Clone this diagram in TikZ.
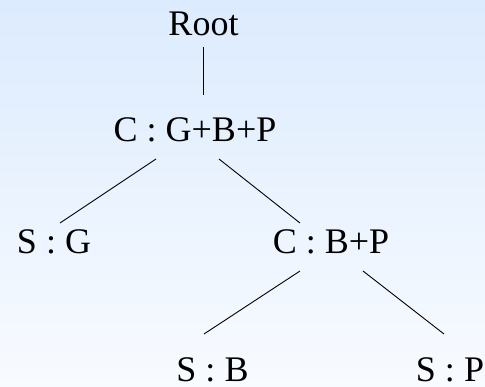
\documentclass[tikz,border=0pt]{standalone}
\usepackage{fontspec}
\setmainfont{Liberation Serif}
\definecolor{bgtop}{HTML}{DCEBFE}
\definecolor{bgbot}{HTML}{F8FBFF}
\begin{document}
\begin{tikzpicture}[x=1pt,y=-1pt,
  label/.style={anchor=base,inner sep=0pt,font=\fontsize{36}{40}\selectfont},
  edge/.style={line width=0.9pt}]
  % page background with a soft vertical gradient
  \shade[top color=bgtop,bottom color=bgbot] (0,0) rectangle (485,386);
  \useasboundingbox (0,0) rectangle (485,386);

  % tree labels
  \node[label] (root) at (203.5,35)  {Root};
  \node[label] (cgbp) at (195,141.5) {C : G+B+P};
  \node[label] (sg)   at (54,253)    {S : G};
  \node[label] (cbp)  at (331,253)   {C : B+P};
  \node[label] (sb)   at (212.5,381) {S : B};
  \node[label] (sp)   at (450,381)   {S : P};

  % end points of the branches
  \coordinate (root-b) at (203.7,47);
  \coordinate (cgbp-t) at (203.7,95);
  \coordinate (cgbp-l) at (156,159);
  \coordinate (cgbp-r) at (219,159);
  \coordinate (sg-t)   at (60,223);
  \coordinate (cbp-t)  at (300,223);
  \coordinate (cbp-l)  at (300,271);
  \coordinate (cbp-r)  at (363,271);
  \coordinate (sb-t)   at (204,334);
  \coordinate (sp-t)   at (444,334);

  % branches
  \draw[edge] (root-b) -- (cgbp-t);
  \draw[edge] (cgbp-l) -- (sg-t);
  \draw[edge] (cgbp-r) -- (cbp-t);
  \draw[edge] (cbp-l) -- (sb-t);
  \draw[edge] (cbp-r) -- (sp-t);
\end{tikzpicture}
\end{document}
